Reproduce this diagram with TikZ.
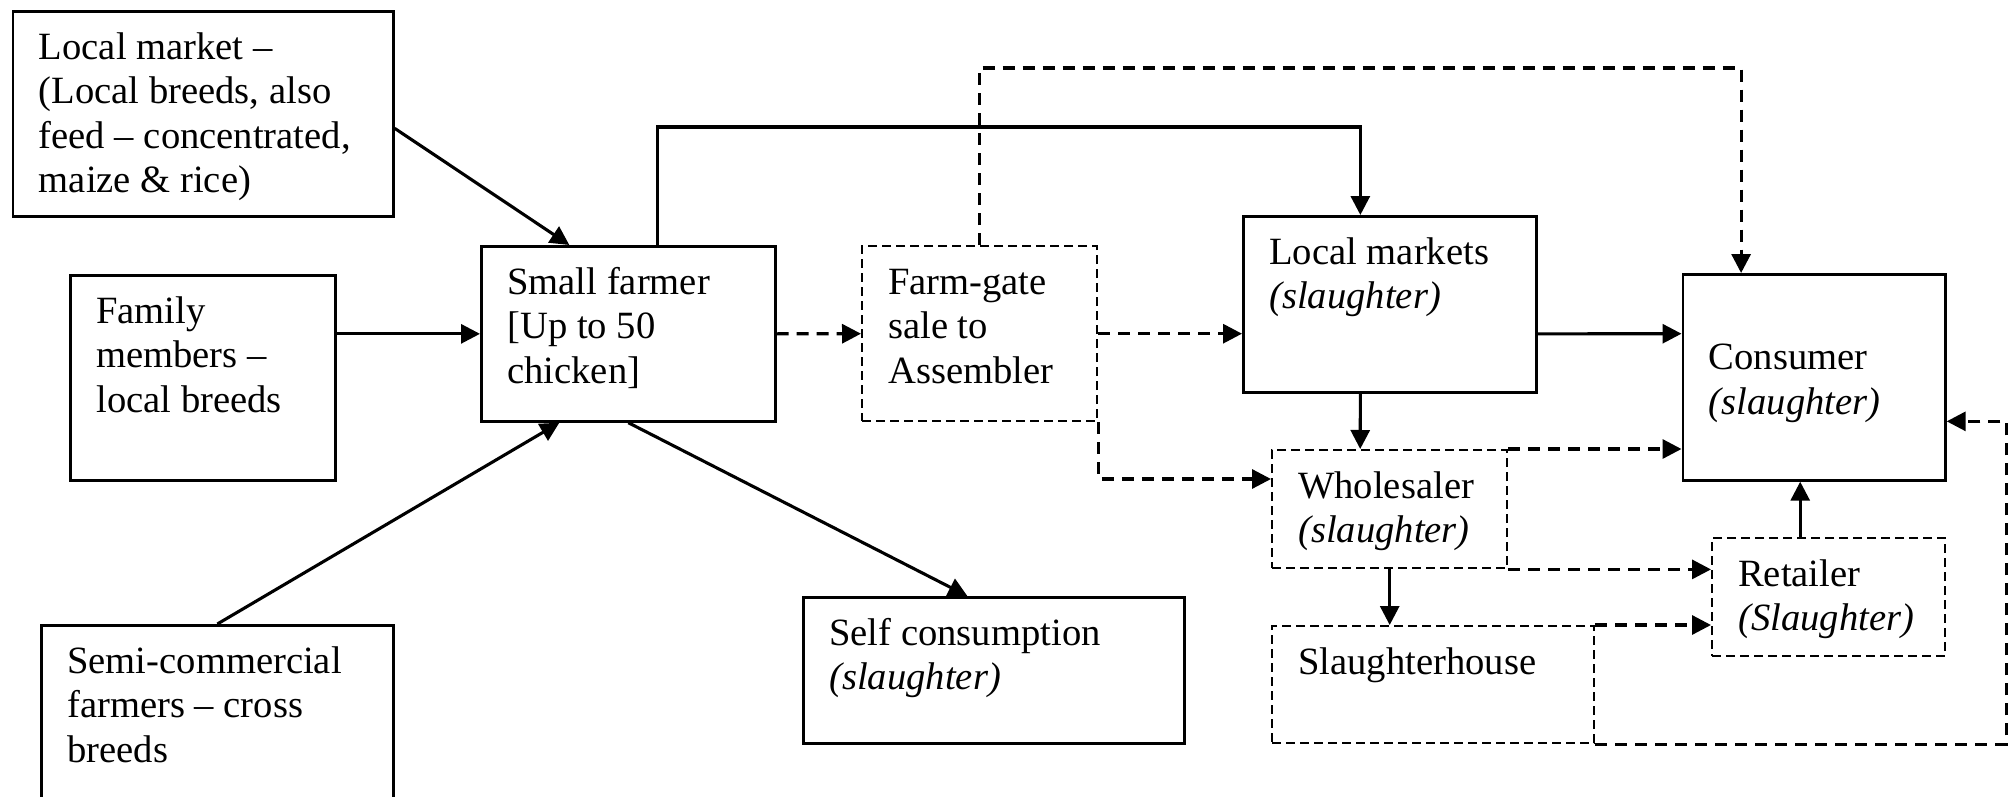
\documentclass[tikz,border=0pt]{standalone}
\usepackage{fontspec}
\setmainfont{Liberation Serif}
\usetikzlibrary{arrows.meta,calc}
\tikzset{
    blk/.style={draw, line width=2.7pt, anchor=north west, inner xsep=26pt, inner ysep=17pt,
        font=\fontsize{38.6}{44.4}\selectfont},
    dblk/.style={blk, line width=2.4pt, dash pattern=on 9pt off 5pt},
    arr/.style={line width=3.1pt, -{Triangle[length=19pt,width=19pt]}},
    darr/.style={arr, line width=3.2pt, dash pattern=on 12pt off 8pt},
}
\newcommand{\cell}[3]{\parbox[t][\dimexpr#2pt-34pt\relax][t]{\dimexpr#1pt-52pt\relax}{\raggedright\strut#3}}

\begin{document}
\begin{tikzpicture}[x=1pt,y=-1pt]
\useasboundingbox (0,0) rectangle (2013,797);
\node[blk] (lmkt) at (11.5,10) {\cell{380.5}{205}{Local market –\\(Local breeds, also\\feed – concentrated,\\maize \& rice)}};
\node[blk] (fam) at (69,274) {\cell{265}{205}{Family\\members –\\local breeds}};
\node[blk] (semi) at (40,624) {\cell{352}{206}{Semi-commercial\\farmers – cross\\breeds}};
\node[blk] (farmer) at (480,245) {\cell{294}{175}{Small farmer\\{[}Up to 50\\chicken]}};
\node[dblk] (gate) at (861,245) {\cell{235}{175}{Farm-gate\\sale to\\Assembler}};
\node[blk] (self) at (802,596) {\cell{381}{146}{Self consumption\\\textit{(slaughter)}}};
\node[blk] (mkts) at (1242,215) {\cell{293}{176}{Local markets\\\textit{(slaughter)}}};
\node[blk] (cons) at (1681.5,273) {\cell{262.5}{206}{\\[3pt]Consumer\\\textit{(slaughter)}}};
\node[dblk] (whole) at (1271,449) {\cell{235}{118}{Wholesaler\\\textit{(slaughter)}}};
\node[dblk] (ret) at (1711,537) {\cell{233}{118}{Retailer\\\textit{(Slaughter)}}};
\node[dblk] (slh) at (1271,625) {\cell{322}{117}{Slaughterhouse}};
% inputs to the farmer
\draw[arr] ($(lmkt.east)+(0,14.5)$) -- ($(farmer.north)+(-59,0)$);
\draw[arr] (fam.east |- farmer.west) -- (farmer.west);
\draw[arr] (semi.north) -- ($(farmer.south)+(-69,0)$);
\draw[arr] (farmer.south) -- ($(self.north)+(-26.5,0)$);
% sales
\draw[darr] (farmer.east) -- (gate.west);
\draw[arr] ($(farmer.north)+(29,0)$) -- ++(0,-118) -| ($(mkts.north)+(-29.5,0)$);
\draw[darr] (gate.north) -- ++(0,-177) -| ($(cons.north)+(-73,0)$);
\draw[darr] (gate.east) -- (gate.east -| mkts.west);
\draw[darr] (gate.south east) |- ($(whole.north west)+(0,30)$);
\draw[arr] ($(mkts.east)+(0,29.5)$) -- (gate.east -| cons.west);
\draw[arr] ($(mkts.south)+(-29.5,0)$) -- ($(whole.north)+(-29.5,0)$);
\draw[darr] (whole.north east) -- (whole.north east -| cons.west);
\draw[darr] (whole.south east) -- (whole.south east -| ret.west);
\draw[arr] (whole.south) -- (whole.south |- slh.north);
\draw[darr] (slh.north east) -- (slh.north east -| ret.west);
\coordinate (retout) at ($(ret.north)+(-28.5,0)$);
\draw[arr] (retout) -- (retout |- cons.south);
\draw[darr] (slh.south east) -- ++(411,0) |- ($(cons.east)+(0,44)$);
\end{tikzpicture}
\end{document}
